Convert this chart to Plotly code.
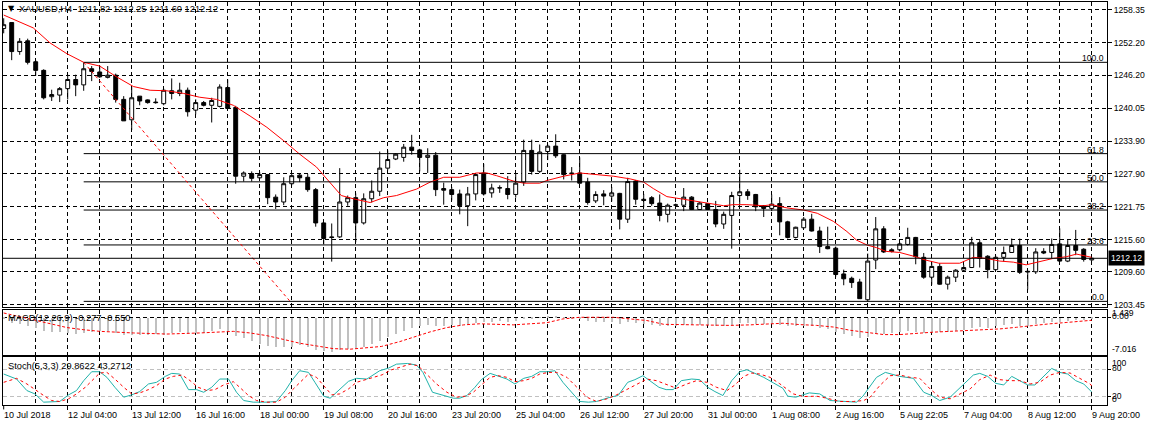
import plotly.graph_objects as go

W, H = 1152, 430
FONT = "Liberation Sans, Arial, sans-serif"

# ---------------- data ----------------
date_labels = ["10 Jul 2018", "12 Jul 04:00", "13 Jul 12:00", "16 Jul 16:00", "18 Jul 00:00",
               "19 Jul 08:00", "20 Jul 16:00", "23 Jul 20:00", "25 Jul 04:00", "26 Jul 12:00",
               "27 Jul 20:00", "31 Jul 00:00", "1 Aug 08:00", "2 Aug 16:00", "5 Aug 22:05",
               "7 Aug 04:00", "8 Aug 12:00", "9 Aug 20:00"]
label_bars = list(range(0, 137, 8))

open_ = [1254.9, 1256.0, 1250.6, 1252.6, 1248.7, 1247.1, 1242.2, 1242.5, 1243.7, 1245.4,
         1244.4, 1247.4, 1246.8, 1245.8, 1246.2, 1241.7, 1237.9, 1242.3, 1241.6, 1241.2,
         1240.9, 1243.3, 1242.8, 1243.4, 1239.7, 1241.1, 1240.6, 1240.4, 1243.9, 1240.2,
         1227.4, 1227.9, 1227.1, 1227.7, 1223.5, 1222.6, 1226.0, 1227.6, 1227.2, 1224.9,
         1218.7, 1216.1, 1216.1, 1222.6, 1223.4, 1218.7, 1223.2, 1224.6, 1228.9, 1230.6,
         1230.9, 1232.8, 1232.3, 1230.9, 1231.3, 1225.1, 1224.9, 1224.1, 1221.9, 1224.1,
         1228.0, 1224.3, 1225.2, 1225.1, 1224.0, 1226.3, 1232.2, 1228.3, 1232.0, 1233.0,
         1231.4, 1228.0, 1228.0, 1226.3, 1222.8, 1224.1, 1223.7, 1224.2, 1219.4, 1226.5,
         1223.1, 1223.4, 1222.4, 1220.3, 1222.0, 1222.0, 1223.5, 1221.2, 1222.3, 1221.2,
         1218.5, 1220.1, 1223.8, 1224.5, 1224.0, 1221.9, 1221.4, 1222.3, 1218.9, 1216.0,
         1217.8, 1219.4, 1217.2, 1214.3, 1214.0, 1209.2, 1208.4, 1207.7, 1204.4, 1211.8,
         1217.6, 1213.7, 1213.7, 1214.7, 1216.0, 1212.3, 1208.6, 1210.6, 1207.3, 1208.6,
         1209.9, 1210.4, 1215.0, 1212.5, 1210.0, 1212.3, 1213.2, 1214.5, 1209.7, 1209.6,
         1213.4, 1213.2, 1214.8, 1211.6, 1214.5, 1213.8, 1211.82]
high = [1256.8, 1256.0, 1253.1, 1253.0, 1249.0, 1247.3, 1243.5, 1244.0, 1246.3, 1246.3,
        1248.6, 1247.9, 1248.0, 1247.9, 1246.5, 1242.3, 1244.0, 1242.3, 1241.7, 1241.9,
        1243.7, 1245.6, 1244.8, 1243.9, 1241.7, 1241.4, 1242.0, 1244.5, 1245.4, 1240.5,
        1228.3, 1228.3, 1228.2, 1227.7, 1224.0, 1227.2, 1227.8, 1228.0, 1227.8, 1225.2,
        1218.7, 1218.6, 1228.9, 1223.8, 1224.2, 1224.2, 1226.6, 1232.0, 1232.2, 1231.7,
        1233.4, 1235.1, 1232.5, 1232.6, 1231.9, 1226.2, 1225.4, 1224.9, 1225.4, 1228.0,
        1229.7, 1226.0, 1225.7, 1227.4, 1228.0, 1234.2, 1234.2, 1233.3, 1233.3, 1235.2,
        1231.5, 1229.1, 1230.9, 1227.1, 1224.6, 1224.8, 1225.4, 1224.3, 1227.1, 1226.7,
        1224.1, 1223.7, 1224.0, 1222.3, 1222.3, 1225.2, 1223.7, 1222.6, 1222.4, 1222.8,
        1220.8, 1224.5, 1228.6, 1225.0, 1224.1, 1222.0, 1224.0, 1223.5, 1219.1, 1218.0,
        1219.8, 1220.4, 1218.0, 1218.0, 1214.3, 1210.0, 1208.7, 1208.3, 1213.0, 1219.8,
        1218.1, 1214.0, 1215.1, 1217.8, 1216.1, 1213.1, 1211.4, 1211.2, 1208.9, 1210.1,
        1210.9, 1216.1, 1215.5, 1212.7, 1212.6, 1214.3, 1215.8, 1215.8, 1209.8, 1214.0,
        1214.0, 1215.8, 1217.7, 1215.5, 1217.4, 1214.0, 1212.25]
low = [1254.0, 1249.0, 1250.0, 1248.2, 1246.1, 1241.7, 1241.4, 1241.2, 1241.7, 1242.3,
       1243.3, 1245.1, 1245.7, 1245.6, 1241.1, 1237.7, 1236.0, 1240.6, 1240.9, 1240.9,
       1240.6, 1241.7, 1242.3, 1238.5, 1238.9, 1240.4, 1237.4, 1240.2, 1239.9, 1226.0,
       1226.4, 1226.4, 1226.9, 1222.2, 1221.3, 1222.0, 1225.7, 1226.3, 1224.5, 1218.0,
       1214.7, 1211.5, 1215.9, 1221.9, 1215.1, 1218.4, 1222.5, 1223.7, 1228.5, 1230.4,
       1230.1, 1231.4, 1228.3, 1228.0, 1223.7, 1222.1, 1222.9, 1220.3, 1218.1, 1222.9,
       1223.8, 1223.4, 1224.3, 1223.1, 1223.4, 1225.6, 1227.7, 1228.0, 1230.4, 1230.8,
       1226.8, 1226.6, 1226.0, 1222.1, 1222.4, 1222.0, 1222.7, 1217.5, 1218.7, 1222.1,
       1221.6, 1221.9, 1219.0, 1218.8, 1221.7, 1220.9, 1221.1, 1221.1, 1221.1, 1217.9,
       1217.6, 1213.9, 1222.1, 1223.0, 1220.9, 1219.8, 1220.9, 1216.4, 1215.8, 1215.8,
       1217.7, 1217.1, 1213.1, 1213.8, 1208.7, 1207.1, 1206.6, 1204.6, 1204.1, 1210.1,
       1213.1, 1213.2, 1213.4, 1214.5, 1211.0, 1208.3, 1207.2, 1207.2, 1206.3, 1207.7,
       1209.7, 1210.3, 1210.4, 1208.4, 1209.9, 1211.5, 1213.2, 1209.2, 1206.3, 1209.2,
       1212.9, 1212.1, 1211.5, 1211.4, 1212.7, 1211.5, 1211.60]
close = [1255.6, 1250.6, 1252.5, 1248.6, 1247.1, 1242.0, 1242.6, 1243.7, 1245.4, 1244.4,
         1247.4, 1246.9, 1245.9, 1246.2, 1241.7, 1237.7, 1242.0, 1241.4, 1241.1, 1241.1,
         1243.4, 1242.8, 1243.4, 1239.4, 1241.1, 1240.6, 1241.5, 1244.0, 1240.0, 1227.4,
         1228.0, 1227.0, 1227.7, 1223.4, 1222.6, 1226.0, 1227.5, 1227.1, 1224.9, 1218.7,
         1215.8, 1216.0, 1222.6, 1223.4, 1218.7, 1223.2, 1224.6, 1228.9, 1230.5, 1231.5,
         1232.8, 1232.2, 1230.9, 1231.3, 1224.9, 1224.8, 1224.0, 1221.9, 1224.1, 1227.7,
         1224.1, 1225.2, 1225.25, 1224.0, 1226.1, 1232.2, 1228.3, 1231.9, 1233.0, 1231.2,
         1227.7, 1227.9, 1226.1, 1222.5, 1224.0, 1223.7, 1224.3, 1219.4, 1226.4, 1223.1,
         1222.9, 1222.3, 1220.1, 1222.0, 1222.05, 1223.5, 1221.2, 1222.4, 1221.2, 1218.5,
         1220.3, 1223.8, 1224.5, 1223.8, 1221.7, 1221.4, 1222.2, 1218.9, 1216.0, 1217.9,
         1219.4, 1217.2, 1214.3, 1213.9, 1209.1, 1208.3, 1207.6, 1204.6, 1211.6, 1217.6,
         1213.3, 1213.4, 1214.8, 1216.0, 1212.4, 1208.6, 1210.6, 1207.3, 1208.6, 1209.9,
         1210.4, 1215.0, 1212.1, 1210.0, 1212.3, 1213.2, 1214.5, 1209.5, 1209.6, 1213.3,
         1213.1, 1214.7, 1211.6, 1214.5, 1213.6, 1211.9, 1212.12]
bars = list(range(len(close)))

ma_bar = [0, 3.7, 5.8, 7.9, 10, 12, 14.1, 16.2, 18.3, 20.4, 22.5, 24.5, 26.6, 28.7, 30.8,
          32.9, 35, 37, 39.1, 40.2, 41.2, 42.2, 43.7, 45.8, 47.5, 49.1, 51.6, 53.3, 55, 57,
          59.1, 60.4, 61.6, 63.7, 65, 67, 67.9, 70, 72, 74.1, 76.2, 78.3, 80, 81.2, 82.9,
          85, 87.1, 88.8, 90, 91.2, 92.9, 95, 96, 97.9, 100, 101.7, 103.7, 105.4, 106.6,
          107.9, 109.1, 110.3, 112, 114, 115.2, 116.9, 119.5, 121.2, 122.8, 124.5, 126.2,
          127.8, 129.5, 131.2, 132.8, 134.1, 136]
ma_val = [1257.4, 1255.0, 1252.2, 1250.2, 1248.6, 1247.9, 1245.9, 1244.1, 1243.4, 1243.3,
          1242.8, 1242.1, 1241.7, 1240.6, 1238.6, 1236.5, 1234.0, 1231.5, 1229.1, 1227.2,
          1225.4, 1223.8, 1223.2, 1222.5, 1223.4, 1223.8, 1225.0, 1226.3, 1227.2, 1227.2,
          1228.0, 1228.0, 1227.5, 1226.5, 1226.1, 1226.1, 1226.6, 1227.4, 1228.0, 1227.7,
          1227.4, 1226.9, 1226.3, 1225.1, 1223.6, 1223.1, 1222.6, 1222.1, 1221.9, 1222.1,
          1222.1, 1221.9, 1222.1, 1221.5, 1221.1, 1220.5, 1219.0, 1217.1, 1215.5, 1214.6,
          1214.1, 1213.4, 1213.2, 1212.4, 1211.8, 1211.2, 1211.2, 1212.3, 1212.1, 1211.6,
          1211.4, 1210.9, 1211.5, 1212.1, 1212.4, 1212.9, 1212.3]

macd_hist = [-0.3, -0.9, -1.2, -1.5, -1.9, -2.4, -2.6, -2.6, -2.8, -3.0,
             -2.9, -2.6, -2.4, -2.45, -2.75, -3.15, -3.2, -3.2, -3.15, -3.0,
             -3.2, -2.8, -2.6, -2.9, -2.8, -2.9, -2.45, -2.0, -2.4, -3.35,
             -3.8, -4.3, -4.8, -5.2, -5.4, -5.5, -5.4, -5.1, -5.4, -5.9,
             -6.2, -6.3, -5.9, -5.7, -5.8, -5.4, -4.9, -4.3, -3.6, -3.0,
             -2.4, -1.8, -1.5, -1.3, -1.5, -1.5, -1.4, -1.5, -1.3, -0.9,
             -0.8, -0.7, -0.6, -0.7, -0.6, -0.2, -0.2, 0.1, 0.3, 0.3,
             0.1, -0.1, -0.2, -0.6, -0.7, -0.8, -0.8, -1.1, -0.8, -1.0,
             -1.2, -1.3, -1.5, -1.5, -1.5, -1.3, -1.4, -1.3, -1.4, -1.6,
             -1.6, -1.3, -1.0, -1.0, -1.1, -1.2, -1.1, -1.3, -1.6, -1.6,
             -1.5, -1.6, -1.9, -2.1, -2.6, -3.0, -3.3, -3.8, -3.5, -3.0,
             -3.0, -2.9, -2.7, -2.5, -2.6, -2.9, -2.6, -2.7, -2.6, -2.5,
             -2.3, -1.8, -1.7, -1.8, -1.6, -1.4, -1.2, -1.5, -1.5, -1.2,
             -1.0, -0.8, -0.8, -0.6, -0.5, -0.5, -0.277]
signal_bar = [0, 3.7, 5.8, 7.9, 10, 12, 16.2, 20.4, 24.5, 28.7, 30.8, 32.9, 35, 37, 39.1,
              41.2, 43.3, 45.4, 47.2, 49.5, 51.2, 53.3, 55.4, 57.5, 59.5, 63.7, 67.9, 69.9,
              72, 76.2, 80.4, 82.5, 86.6, 90.8, 93.3, 95, 97.4, 99.5, 101.6, 103.7, 105.8,
              107.9, 110, 112, 114.1, 116.2, 118.3, 120.4, 122.5, 124.5, 126.6, 128.7,
              130.8, 132.9, 135, 136]
signal_val = [0.8, -0.4, -1.2, -1.9, -2.3, -2.6, -2.9, -3.1, -2.9, -2.6, -2.9, -3.4, -4.1,
              -4.8, -5.3, -5.8, -5.9, -5.7, -5.4, -4.5, -3.7, -2.7, -1.9, -1.4, -1.2, -1.4,
              -1.0, -0.3, 0.0, 0.0, -0.6, -1.3, -1.4, -1.5, -1.4, -1.3, -1.1, -1.35, -1.5,
              -1.8, -2.4, -2.8, -3.2, -3.2, -2.95, -2.75, -2.6, -2.45, -2.3, -2.15, -1.85,
              -1.5, -1.2, -0.95, -0.75, -0.55]

k_bar = [0, 1.6, 2.9, 3.9, 5.0, 5.8, 7.0, 8.1, 9.1, 10.0, 11.0, 12.0, 12.9, 13.9, 15.0,
         16.0, 17.0, 18.1, 19.1, 20.2, 21.0, 22.0, 23.1, 24.1, 25.0, 26.0, 27.0, 28.1, 29.1,
         30.0, 31.2, 32.9, 34.1, 35.2, 36.0, 37.0, 38.1, 38.9, 40.0, 40.8, 42.0, 43.1, 44.1,
         45.4, 47.0, 48.1, 49.1, 50.5, 51.6, 52.4, 53.6, 54.9, 56.2, 57.0, 57.9, 58.9, 59.7,
         60.8, 61.8, 62.9, 63.9, 65.0, 66.0, 67.0, 68.0, 68.9, 69.9, 70.8, 72.0, 73.1, 74.1,
         75.8, 76.8, 78.0, 78.9, 79.9, 80.7, 81.9, 82.8, 83.7, 84.7, 86.0, 87.0, 88.0, 88.9,
         89.9, 91.0, 92.0, 92.9, 93.9, 95.0, 96.2, 97.4, 98.0, 99.0, 100.7, 102.0, 103.3,
         105.0, 106.6, 107.4, 108.3, 109.1, 110.2, 112.0, 113.7, 115.0, 116.0, 117.0, 118.3,
         120.0, 121.2, 122.0, 123.0, 124.0, 125.0, 126.0, 127.0, 128.0, 128.9, 129.9, 131.0,
         132.0, 133.0, 134.0, 135.0, 136.0]
k_val = [69.2, 58.3, 33.0, 25.7, 7.6, 7.6, 9.1, 23.5, 33.0, 54.7, 74.3, 74.3, 62.0, 40.2, 18.5,
         23.5, 30.8, 47.5, 51.1, 64.1, 70.7, 69.2, 35.1, 35.1, 29.3, 40.2, 58.3, 58.3, 29.3,
         11.2, 7.6, 7.6, 9.1, 33.0, 54.7, 76.5, 72.8, 51.1, 20.7, 16.3, 35.1, 53.3, 59.8,
         58.3, 76.5, 82.2, 90.9, 92.4, 88.8, 72.8, 29.3, 22.1, 16.3, 16.3, 22.1, 40.2, 56.9,
         70.7, 65.6, 58.3, 47.5, 59.8, 64.1, 74.3, 74.3, 76.5, 51.1, 33.0, 9.1, 7.6, 9.1,
         18.5, 22.1, 51.1, 56.9, 65.6, 54.7, 40.2, 35.1, 35.1, 54.7, 58.3, 56.9, 40.2, 30.8,
         22.1, 54.7, 74.3, 78.6, 70.7, 62.0, 50.0, 38.0, 20.7, 18.5, 27.9, 25.7, 11.2,
         9.1, 7.6, 20.7, 43.8, 62.0, 72.8, 64.1, 59.8, 29.3, 22.1, 11.2, 18.5,
         47.5, 67.0, 70.7, 64.1, 48.9, 45.3, 64.1, 54.7, 45.3, 45.3, 62.0, 81.5,
         72.8, 69.2, 54.7, 47.5, 29.9]
d_bar = [0, 1.6, 2.9, 3.9, 5.0, 6.0, 7.0, 8.1, 9.1, 10.2, 11.2, 12.0, 12.9, 13.9, 15.0, 16.0,
         17.0, 18.1, 19.1, 20.2, 21.2, 22.3, 23.3, 24.3, 25.4, 26.4, 27.5, 28.7, 29.5, 30.6,
         31.6, 32.9, 34.1, 35.2, 36.0, 37.0, 38.1, 39.1, 40.2, 41.0, 42.0, 43.1, 44.1, 45.2,
         46.2, 47.3, 48.4, 49.5, 50.8, 51.8, 52.9, 54.1, 55.4, 56.6, 57.7, 58.7, 59.7, 60.8,
         61.8, 62.9, 63.9, 65.0, 66.0, 67.0, 68.1, 69.1, 70.4, 71.6, 72.9, 74.1, 75.4, 76.6,
         77.9, 79.1, 80.4, 81.6, 82.9, 84.1, 85.4, 86.6, 87.9, 89.1, 90.4, 91.4, 92.5, 93.5,
         94.5, 95.8, 97.0, 98.7, 100.0, 101.6, 102.9, 104.5, 106.2, 107.5, 108.3, 109.5,
         110.8, 112.0, 113.3, 114.5, 115.8, 117.0, 118.3, 119.5, 120.8, 122.0, 123.3, 124.5,
         125.8, 127.0, 128.3, 129.5, 130.8, 132.0, 133.3, 134.5, 135.8, 136.0]
d_val = [51.1, 59.8, 47.5, 35.1, 22.1, 11.2, 9.1, 14.9, 25.7, 40.2, 58.3, 71.4, 72.8, 58.3,
         40.2, 25.7, 27.9, 35.1, 43.8, 58.3, 64.1, 67.0, 54.7, 40.2, 33.0, 35.1, 45.3, 52.5,
         40.2, 22.1, 11.2, 7.6, 7.6, 18.5, 33.0, 51.1, 69.2, 62.0, 40.2, 23.5, 25.7, 36.6,
         51.1, 56.9, 62.0, 67.5, 78.0, 84.0, 90.9, 87.3, 69.2, 47.5, 29.3, 18.5, 20.7, 29.3,
         45.3, 62.0, 65.6, 62.0, 52.5, 54.7, 59.8, 69.2, 72.8, 72.8, 62.0, 40.2, 18.5, 9.1,
         14.9, 23.5, 35.1, 47.5, 58.3, 54.7, 45.3, 38.0, 47.5, 54.7, 51.1, 40.2, 33.0, 45.3,
         64.1, 71.4, 69.2, 62.0, 48.0, 25.7, 19.9, 20.7, 16.3, 9.1, 9.1, 11.2, 18.5, 43.8,
         65.6, 67.0, 62.0, 59.8, 36.6, 18.5, 14.9, 25.7, 36.6, 56.9, 67.0, 56.9, 54.7, 54.7,
         47.5, 51.1, 67.0, 72.8, 71.4, 59.8, 47.5, 43.3]

price_ticks = [1258.35, 1252.20, 1246.20, 1240.05, 1233.90, 1227.90, 1221.75, 1215.60, 1209.60, 1203.45]
fib_levels = [0.0, 23.6, 38.2, 50.0, 61.8, 100.0]
fib_low, fib_high = 1204.1, 1248.6
fib_start_bar, fib_end_bar = 10, 35.8
last_price = 1212.12
macd_max, macd_min = 1.439, -7.016
stoch_levels = [20, 80]
title_text = "XAUUSD,H4  1211.82 1212.25 1211.60 1212.12"
macd_text = "MACD(12,26,9) -0.277 -0.550"
stoch_text = "Stoch(5,3,3) 29.8622 43.2712"

# ---------------- layout geometry ----------------
def px(x):
    return x / W

def py(y):
    return 1 - y / H

X_DOM = [px(3), px(1107)]
MAIN_DOM = [py(309), py(2)]
MACD_DOM = [py(357.7), py(311.7)]
STO_DOM = [py(408.3), py(359.3)]
X_RANGE = [-0.0875, 137.91]
GRID_DASH = "4px,3px"
AXF = dict(family=FONT, size=8.6, color="black")   # price-axis / level labels
TXT = dict(family=FONT, size=9.3, color="black")   # titles
DATEF = dict(family=FONT, size=9, color="black")   # time labels

fig = go.Figure()

fig.add_trace(go.Candlestick(
    x=bars, open=open_, high=high, low=low, close=close,
    increasing=dict(line=dict(color="black", width=1), fillcolor="white"),
    decreasing=dict(line=dict(color="black", width=1), fillcolor="black"),
    whiskerwidth=0, xaxis="x", yaxis="y", hoverinfo="skip"))
fig.add_trace(go.Scatter(x=ma_bar, y=ma_val, mode="lines",
                         line=dict(color="red", width=1), xaxis="x", yaxis="y"))

fig.add_trace(go.Bar(x=bars, y=macd_hist, width=0.16, marker=dict(color="#C0C0C0", line=dict(width=0)),
                     xaxis="x2", yaxis="y2"))
fig.add_trace(go.Scatter(x=signal_bar, y=signal_val, mode="lines",
                         line=dict(color="red", width=1, dash="3px,2px"), xaxis="x2", yaxis="y2"))

fig.add_trace(go.Scatter(x=k_bar, y=k_val, mode="lines",
                         line=dict(color="#20B2AA", width=1), xaxis="x3", yaxis="y3"))
fig.add_trace(go.Scatter(x=d_bar, y=d_val, mode="lines",
                         line=dict(color="red", width=1, dash="3px,3px"), xaxis="x3", yaxis="y3"))

grid_bars = list(range(4, 137, 4))
common_x = dict(domain=X_DOM, range=X_RANGE, showline=True, mirror=True, linecolor="black",
                linewidth=1, zeroline=False, tickmode="array", tickvals=grid_bars,
                showgrid=True, gridcolor="black", gridwidth=1, griddash=GRID_DASH,
                showticklabels=False, ticks="", rangeslider=dict(visible=False), fixedrange=True)
x3_axis = dict(common_x)
x3_axis.update(tickvals=label_bars[1:], ticks="outside", ticklen=4, tickcolor="black",
               minor=dict(tickmode="array", tickvals=[b for b in grid_bars if b % 8 != 0],
                          showgrid=True, gridcolor="black", griddash=GRID_DASH, ticks=""))

shapes = []
annotations = []

# fib levels
for lv in fib_levels:
    val = fib_low + (fib_high - fib_low) * lv / 100.0
    shapes.append(dict(type="line", xref="x", yref="y", x0=fib_start_bar, x1=X_RANGE[1],
                       y0=val, y1=val, line=dict(color="black", width=1)))
    annotations.append(dict(xref="paper", yref="y", x=px(1105), y=val, text=f"{lv:.1f}",
                            showarrow=False, xanchor="right", yanchor="bottom",
                            font=AXF, borderpad=0, yshift=-2))
shapes.append(dict(type="line", xref="x", yref="y", x0=fib_start_bar, x1=fib_end_bar,
                   y0=fib_high, y1=fib_low, line=dict(color="red", width=1, dash="3px,3px")))
# current price line
shapes.append(dict(type="line", xref="paper", yref="y", x0=X_DOM[0], x1=X_DOM[1],
                   y0=last_price, y1=last_price, line=dict(color="black", width=1)))
annotations.append(dict(xref="paper", yref="y", x=px(1108), y=last_price, text=f"{last_price:.2f}",
                        showarrow=False, xanchor="left", yanchor="middle", bgcolor="black",
                        font=dict(family=FONT, size=8.6, color="white"), borderpad=2))
# label start tick under bar 0
shapes.append(dict(type="line", xref="x3", yref="paper", x0=0, x1=0, y0=py(408.3), y1=py(412.3),
                   line=dict(color="black", width=1)))

# titles
annotations.append(dict(xref="paper", yref="paper", x=px(6), y=py(9), text="▼",
                        showarrow=False, xanchor="left", yanchor="middle",
                        font=dict(family="DejaVu Sans", size=8, color="black")))
annotations.append(dict(xref="paper", yref="paper", x=px(17), y=py(9), text=title_text,
                        showarrow=False, xanchor="left", yanchor="middle", font=TXT))
annotations.append(dict(xref="paper", yref="paper", x=px(6), y=py(320), text=macd_text,
                        showarrow=False, xanchor="left", yanchor="middle", font=TXT))
annotations.append(dict(xref="paper", yref="paper", x=px(6), y=py(369), text=stoch_text,
                        showarrow=False, xanchor="left", yanchor="middle", font=TXT))

# sub-window scale labels (MT4 draws them overlapping)
for txt, ypix in [(f"{macd_max:.3f}", 315), ("0.00", 318), (f"{macd_min:.3f}", 351.7),
                  ("100", 366), ("80", 371), ("20", 398.7), ("0", 402)]:
    annotations.append(dict(xref="paper", yref="paper", x=px(1110), y=py(ypix), text=txt,
                            showarrow=False, xanchor="left", yanchor="middle", font=AXF))

# time labels
for b, t in zip(label_bars, date_labels):
    annotations.append(dict(xref="x3", yref="paper", x=b, y=py(418), text=t, showarrow=False,
                            xanchor="left", yanchor="middle", xshift=-2, font=DATEF))

fig.update_layout(
    width=W, height=H, autosize=False, margin=dict(l=0, r=0, t=0, b=0, pad=0),
    paper_bgcolor="white", plot_bgcolor="white", showlegend=False, bargap=0,
    xaxis=dict(anchor="y", **common_x),
    xaxis2=dict(anchor="y2", matches="x", **common_x),
    xaxis3=dict(anchor="y3", matches="x", **x3_axis),
    yaxis=dict(domain=MAIN_DOM, range=[1203.08, 1259.83], side="right", anchor="x",
               tickmode="array", tickvals=price_ticks, ticktext=[f"{v:.2f}" for v in price_ticks],
               showgrid=True, gridcolor="black", griddash=GRID_DASH, gridwidth=1,
               ticks="outside", ticklen=4, tickcolor="black", showline=True, mirror=True,
               linecolor="black", zeroline=False, fixedrange=True, tickfont=AXF),
    yaxis2=dict(domain=MACD_DOM, range=[macd_min, macd_max], side="right", anchor="x2",
                tickmode="array", tickvals=[0], showticklabels=False, showgrid=True,
                gridcolor="black", griddash=GRID_DASH, ticks="outside", ticklen=3,
                tickcolor="black", showline=True, mirror=True,
                linecolor="black", zeroline=False, fixedrange=True),
    yaxis3=dict(domain=STO_DOM, range=[0.4, 107], side="right", anchor="x3",
                tickmode="array", tickvals=stoch_levels, showticklabels=False, showgrid=True,
                gridcolor="#C0C0C0", griddash="4px,3px", ticks="outside", ticklen=3,
                tickcolor="black", showline=True, mirror=True,
                linecolor="black", zeroline=False, fixedrange=True),
    shapes=shapes, annotations=annotations,
)

fig.write_html("out.html", config={"displayModeBar": False})
